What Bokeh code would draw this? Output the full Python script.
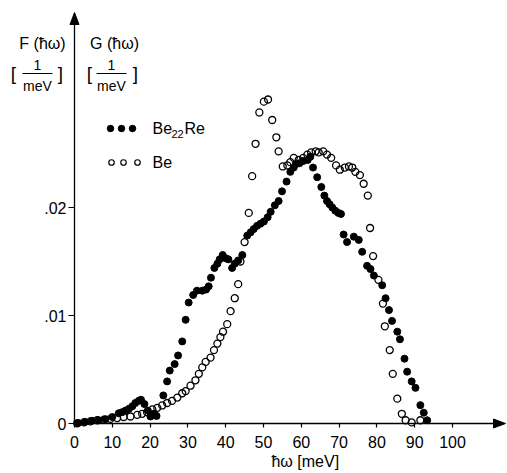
import math
from bokeh.plotting import figure
from bokeh.models import Range1d, FixedTicker, Label
from bokeh.embed import file_html
from bokeh.resources import INLINE

# ---- data ----
be_x = [0.7, 2.5, 4.2, 6.0, 7.8, 9.5, 11.3, 13.0, 14.8, 16.6, 17.9, 19.2, 20.6, 21.9,
        23.2, 24.5, 25.8, 27.2, 28.5, 29.4, 30.7, 32.0, 32.9, 33.8, 34.7, 36.0, 36.9,
        37.8, 38.6, 39.3, 40.4, 41.3, 42.4, 43.3, 43.9, 45.0, 46.1, 47.0, 47.9, 48.9,
        50.1, 51.2, 52.3, 53.4, 54.0, 55.1, 56.3, 57.1, 58.0, 59.3, 60.5, 61.6, 62.6,
        63.8, 64.6, 65.8, 66.8, 67.9, 69.2, 70.2, 71.5, 72.6, 73.5, 74.3, 75.5, 76.5,
        77.6, 78.2, 79.0, 80.4, 81.6, 82.1, 83.4, 84.2, 85.4, 86.6, 87.6, 89.2, 91.5]
be_y = [0.00002, 0.0001, 0.0002, 0.0003, 0.00035, 0.00043, 0.0005, 0.0006, 0.00065,
        0.0008, 0.0009, 0.00105, 0.0013, 0.00145, 0.00167, 0.0019, 0.0021, 0.0024,
        0.0028, 0.0030, 0.0035, 0.0040, 0.0046, 0.0052, 0.0057, 0.0061, 0.0068, 0.0074,
        0.0080, 0.0085, 0.0092, 0.0104, 0.0116, 0.0129, 0.0150, 0.0168, 0.0195, 0.0229,
        0.0259, 0.0288, 0.0298, 0.0300, 0.0281, 0.0265, 0.0252, 0.0238, 0.0239, 0.0242,
        0.0246, 0.0244, 0.0246, 0.0249, 0.0251, 0.0252, 0.0251, 0.0252, 0.0249, 0.0246,
        0.0239, 0.0235, 0.0237, 0.0238, 0.0237, 0.0233, 0.0230, 0.0222, 0.0211, 0.0181,
        0.0155, 0.0133, 0.0111, 0.0090, 0.0068, 0.0046, 0.0023, 0.0009, 0.0003, 0.0001,
        0.0003]

bere_x = [1.0, 2.8, 4.6, 6.4, 8.2, 10.0, 11.7, 12.6, 13.5, 14.4, 15.3, 16.1, 17.0, 17.6,
          18.5, 19.4, 20.1, 21.0, 21.7, 23.5, 24.5, 25.2, 26.5, 27.4, 28.5, 29.4, 30.2,
          31.4, 32.4, 33.8, 34.8, 35.5, 36.1, 37.0, 37.8, 38.4, 39.2, 40.0, 40.7, 41.7,
          42.4, 43.3, 44.4, 45.7, 46.6, 47.4, 48.3, 49.2, 50.1, 51.1, 51.9, 53.0, 54.0,
          54.9, 56.1, 57.1, 58.0, 58.5, 59.5, 60.5, 61.7, 62.4, 63.1, 64.2, 65.3, 66.1,
          66.8, 67.5, 68.2, 69.0, 69.8, 70.5, 71.2, 72.1, 73.9, 75.2, 76.1, 77.4, 78.3,
          79.2, 81.4, 82.3, 83.2, 84.0, 85.4, 86.1, 87.3, 88.0, 89.2, 90.2, 91.5, 92.4,
          93.3]
bere_y = [0.00005, 0.00015, 0.00025, 0.0003, 0.0004, 0.0006, 0.00095, 0.00105, 0.0012,
          0.00136, 0.0016, 0.0019, 0.0021, 0.0022, 0.0018, 0.0012, 0.00065, 0.0009,
          0.0007, 0.0026, 0.0039, 0.0049, 0.0055, 0.0063, 0.0076, 0.0096, 0.0112, 0.0119,
          0.0123, 0.0123, 0.0124, 0.0127, 0.0135, 0.0144, 0.0148, 0.0152, 0.0156, 0.0153,
          0.0152, 0.0144, 0.0148, 0.0151, 0.0156, 0.0174, 0.0177, 0.0180, 0.0183, 0.0185,
          0.0187, 0.0191, 0.0196, 0.0202, 0.0206, 0.0215, 0.0224, 0.0233, 0.0237, 0.0240,
          0.0241, 0.0243, 0.0244, 0.0247, 0.0237, 0.0228, 0.0219, 0.0211, 0.0206, 0.0203,
          0.0200, 0.0197, 0.0195, 0.0194, 0.0175, 0.0168, 0.0173, 0.0170, 0.0159, 0.0146,
          0.0143, 0.0137, 0.0128, 0.0116, 0.0105, 0.0095, 0.0085, 0.0078, 0.0060, 0.0048,
          0.0039, 0.0033, 0.0017, 0.0010, 0.0003]

x_ticks = [0, 10, 20, 30, 40, 50, 60, 70, 80, 90, 100]
y_ticks = [0, 0.01, 0.02]
y_tick_labels = ["0", ".01", ".02"]

FONT = "Liberation Sans"

# canvas geometry (px): origin of the axes and scale
W, H = 507, 473
X0, Y0 = 74, 423          # canvas px of (0, 0)
SX, SY = 3.78, 10800.0    # px per unit
X_END, Y_END = 505, 12    # arrow tips

p = figure(width=W, height=H, output_backend="svg", toolbar_location=None,
           x_range=Range1d(-X0 / SX, (W - X0) / SX),
           y_range=Range1d(-(H - Y0) / SY, Y0 / SY),
           min_border_left=0, min_border_right=0, min_border_top=0,
           min_border_bottom=0)
p.outline_line_color = None
p.grid.visible = False


def dx(cx):
    return (cx - X0) / SX


def dy(cy):
    return (Y0 - cy) / SY


for ax in (p.xaxis[0], p.yaxis[0]):
    ax.fixed_location = 0
    ax.axis_line_color = None
    ax.major_tick_line_color = "black"
    ax.major_tick_line_width = 1.2
    ax.minor_tick_line_color = None
    ax.major_tick_in = 0
    ax.major_label_text_font = FONT
    ax.major_label_text_font_size = "16px"
    ax.major_label_text_color = "black"

p.xaxis.ticker = FixedTicker(ticks=x_ticks)
p.xaxis.major_tick_out = 4
p.xaxis.major_label_standoff = 8

p.yaxis.ticker = FixedTicker(ticks=y_ticks)
p.yaxis.major_label_overrides = {t: s for t, s in zip(y_ticks, y_tick_labels)}
p.yaxis.major_tick_out = 6
p.yaxis.major_label_standoff = 2

# axis lines drawn as long "dash" markers (horizontal and rotated vertical)
x_len = (X_END - 8) - X0
y_len = Y0 - (Y_END + 8)
p.scatter([dx(X0 + x_len / 2)], [0], marker="dash", size=x_len, line_color="black",
          line_width=1.3)
p.scatter([0], [dy(Y0 - y_len / 2)], marker="dash", size=y_len, angle=math.pi / 2,
          line_color="black", line_width=1.3)

# arrow heads
p.patches([[dx(X0 - 4.5), dx(X0), dx(X0 + 4.5)],
           [dx(X_END - 12), dx(X_END), dx(X_END - 12)]],
          [[dy(Y_END + 12), dy(Y_END), dy(Y_END + 12)],
           [dy(Y0 - 4.5), dy(Y0), dy(Y0 + 4.5)]],
          fill_color="black", line_color="black", line_width=1)

# data
p.scatter(bere_x, bere_y, marker="circle", size=7, fill_color="black", line_color="black")
p.scatter(be_x, be_y, marker="circle", size=7, fill_color=None, line_color="black",
          line_width=1.3)

# legend
p.scatter([dx(110), dx(121), dx(132)], [dy(128)] * 3, marker="circle", size=6.5,
          fill_color="black", line_color="black")
p.scatter([dx(111), dx(123), dx(137)], [dy(162)] * 3, marker="circle", size=5.5,
          fill_color=None, line_color="black", line_width=1.2)

# fraction bars as "dash" markers
label_cols = ((13, 37, 60), (89, 111, 135))
p.scatter([dx(c[1]) for c in label_cols], [dy(73)] * 2, marker="dash", size=30,
          line_color="black", line_width=1.2)


def lab(text, cx, cy, size="16px", align="center"):
    p.add_layout(Label(x=dx(cx), y=dy(cy), text=text, text_font=FONT,
                       text_font_size=size, text_align=align,
                       text_baseline="middle", text_color="black"))


lab("Be", 152, 128, align="left")
lab("22", 171, 133, size="11px", align="left")
lab("Re", 184, 128, align="left")
lab("Be", 152, 162, align="left")

lab("F (\u0127\u03c9)", 42, 43)
lab("G (\u0127\u03c9)", 114, 43)
for cxl, cxc, cxr in label_cols:
    lab("[", cxl, 73, size="19px")
    lab("]", cxr, 73, size="19px")
    lab("1", cxc, 64, size="14px")
    lab("meV", cxc, 85, size="14px")

lab("\u0127\u03c9  [meV]", 307, 461)

open("out.html", "w").write(file_html(p, INLINE))
